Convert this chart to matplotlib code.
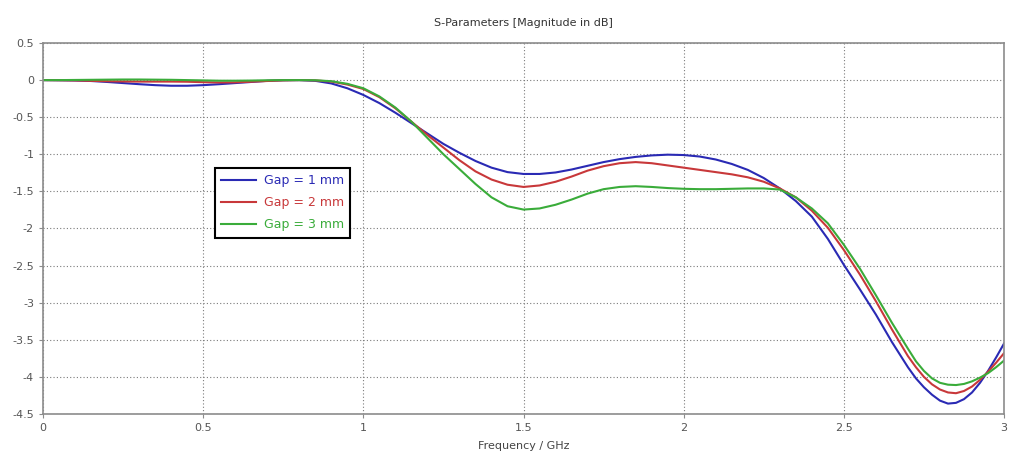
import matplotlib
matplotlib.use("Agg")
import matplotlib.pyplot as plt
from matplotlib.ticker import FuncFormatter, MultipleLocator

# S21 magnitude (dB) for three gap widths; 0.05 GHz steps, finer near the notch
freq_ghz = [round(0.05 * i, 2) for i in range(55)] + [
    2.725, 2.75, 2.775, 2.8, 2.825, 2.85, 2.875, 2.9, 2.925, 2.95, 2.975, 3.0,
]

gap_1mm = [
    0.000, -0.002, -0.005, -0.012, -0.025, -0.040, -0.055, -0.068, -0.076, -0.076,
    -0.068, -0.055, -0.040, -0.025, -0.010, -0.002, 0.000, -0.010, -0.045, -0.110,
    -0.200, -0.310, -0.440, -0.580, -0.720, -0.860, -0.980, -1.090, -1.180, -1.240,
    -1.265, -1.265, -1.245, -1.205, -1.155, -1.105, -1.065, -1.035, -1.015, -1.005,
    -1.010, -1.030, -1.070, -1.130, -1.210, -1.320, -1.460, -1.630, -1.840, -2.140,
    -2.490, -2.820, -3.160, -3.530,
    -3.870, -4.020, -4.140, -4.240, -4.320, -4.360, -4.350, -4.300, -4.210, -4.080,
    -3.920, -3.740, -3.550,
]

gap_2mm = [
    0.000, -0.002, -0.005, -0.010, -0.015, -0.018, -0.020, -0.020, -0.020, -0.022,
    -0.028, -0.032, -0.030, -0.022, -0.012, -0.004, 0.000, -0.004, -0.020, -0.060,
    -0.120, -0.230, -0.380, -0.560, -0.740, -0.910, -1.080, -1.230, -1.340, -1.410,
    -1.440, -1.420, -1.370, -1.300, -1.220, -1.160, -1.120, -1.105, -1.120, -1.150,
    -1.180, -1.210, -1.240, -1.270, -1.310, -1.370, -1.460, -1.580, -1.760, -1.990,
    -2.290, -2.620, -2.980, -3.360,
    -3.720, -3.870, -4.000, -4.100, -4.170, -4.210, -4.220, -4.190, -4.130, -4.040,
    -3.930, -3.810, -3.680,
]

gap_3mm = [
    0.000, 0.000, 0.002, 0.004, 0.006, 0.008, 0.008, 0.006, 0.004, 0.000,
    -0.004, -0.008, -0.008, -0.006, -0.002, 0.000, 0.000, -0.002, -0.015, -0.050,
    -0.110, -0.220, -0.370, -0.560, -0.780, -1.000, -1.200, -1.400, -1.580, -1.700,
    -1.745, -1.730, -1.680, -1.610, -1.530, -1.470, -1.440, -1.430, -1.440, -1.455,
    -1.465, -1.470, -1.470, -1.465, -1.460, -1.460, -1.475, -1.580, -1.730, -1.930,
    -2.220, -2.540, -2.900, -3.270,
    -3.620, -3.790, -3.920, -4.020, -4.080, -4.105, -4.110, -4.095, -4.060, -4.010,
    -3.950, -3.870, -3.780,
]

labels = ["Gap = 1 mm", "Gap = 2 mm", "Gap = 3 mm"]
colors = ["#2a2ab4", "#c8383a", "#3aac3a"]

fig = plt.figure(figsize=(10.1, 4.69), dpi=100)
ax = fig.add_axes([0.0426, 0.1173, 0.9515, 0.791])

for ys, lab, c in zip([gap_1mm, gap_2mm, gap_3mm], labels, colors):
    ax.plot(freq_ghz, ys, color=c, linewidth=1.5, label=lab)

ax.set_xlim(0, 3)
ax.set_ylim(-4.5, 0.5)
ax.xaxis.set_major_locator(MultipleLocator(0.5))
ax.yaxis.set_major_locator(MultipleLocator(0.5))
fmt = FuncFormatter(lambda v, pos: ("%g" % v) if abs(v) > 1e-9 else "0")
ax.xaxis.set_major_formatter(fmt)
ax.yaxis.set_major_formatter(fmt)

ax.grid(True, linestyle=(0, (1, 2)), color="#7a7a7a", linewidth=0.8)
for sp in ax.spines.values():
    sp.set_color("#8c8c8c")
    sp.set_linewidth(1.2)
ax.tick_params(colors="#8c8c8c", labelcolor="#555555", labelsize=8, length=3)

ax.set_title("S-Parameters [Magnitude in dB]", fontsize=8, color="#333333", pad=12)
ax.set_xlabel("Frequency / GHz", fontsize=8, color="#444444", labelpad=6)

leg = ax.legend(loc="upper left", bbox_to_anchor=(0.179, 0.663), borderaxespad=0,
                fancybox=False, framealpha=1, edgecolor="black", fontsize=9,
                handlelength=2.8, handletextpad=0.6, labelspacing=0.72, borderpad=0.5)
leg.get_frame().set_linewidth(1.5)
for txt, c in zip(leg.get_texts(), colors):
    txt.set_color(c)

fig.savefig("out.png", dpi=100)
